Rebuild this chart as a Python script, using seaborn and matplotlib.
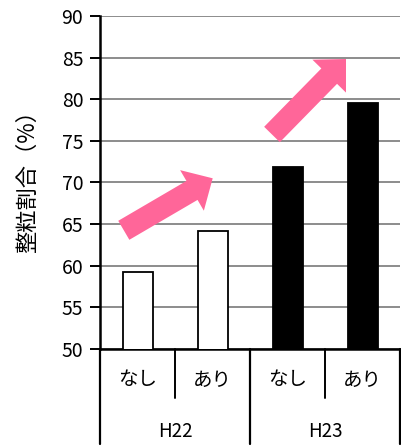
import numpy as np
import pandas as pd
import seaborn as sns
import matplotlib.pyplot as plt
import matplotlib.transforms as mtransforms
from matplotlib.patches import FancyArrow

# chart values
years = ['H22', 'H22', 'H23', 'H23']
treatments = ['なし', 'あり', 'なし', 'あり']
ratios = [59.2, 64.1, 71.8, 79.6]
yticks = [50, 55, 60, 65, 70, 75, 80, 85, 90]

df = pd.DataFrame({
    'Slot': [f'{y}{t}' for y, t in zip(years, treatments)],
    'Year': years,
    'Treatment': treatments,
    'Ratio': ratios,
})

sns.set_style('white')
plt.rcParams['font.family'] = ['Noto Sans CJK JP', 'DejaVu Sans']
plt.rcParams['text.color'] = 'black'
plt.rcParams['axes.labelcolor'] = 'black'
plt.rcParams['ytick.color'] = 'black'

W, H = 401, 446
fig = plt.figure(figsize=(W / 100, H / 100), dpi=100)
ax = fig.add_axes([100 / W, (H - 348.7) / H, 300 / W, 332.7 / H])

sns.barplot(data=df, x='Slot', y='Ratio', hue='Year', dodge=False, width=0.4,
            palette={'H22': 'white', 'H23': 'black'}, edgecolor='black',
            linewidth=1.3, legend=False, ax=ax, zorder=3)

ax.set_ylim(50, 90)
ax.set_xlim(-0.5, 3.5)
ax.set_yticks(yticks)
ax.yaxis.grid(True, color='#8c8c8c', linewidth=1.4, zorder=0)
ax.set_axisbelow(True)
ax.tick_params(axis='y', which='major', labelsize=14, length=7, width=1.4,
               direction='out', left=True, pad=5, color='black', labelcolor='black')
ax.tick_params(axis='x', bottom=False, labelbottom=False)
sns.despine(ax=ax, top=True, right=True)
ax.spines['left'].set_linewidth(1.8)
ax.spines['bottom'].set_linewidth(1.8)
ax.spines['left'].set_color('black')
ax.spines['bottom'].set_color('black')
ax.set_xlabel('')
ax.set_ylabel('整粒割合（%）', fontsize=16, color='black')
ax.yaxis.set_label_coords(-0.205, 0.52)

# two-level category axis
trans = ax.get_xaxis_transform()
for i, t in enumerate(treatments):
    ax.text(i, -0.094, t, transform=trans, ha='center', va='center', fontsize=14, color='black')
for k, yr in enumerate(['H22', 'H23']):
    ax.text(2 * k + 0.5, -0.25, yr, transform=trans, ha='center', va='center', fontsize=13.5, color='black')
for xb in [0.5, 2.5]:
    ax.plot([xb, xb], [0, -0.148], transform=trans, color='black', lw=1.4, clip_on=False)
for xb in [-0.5, 1.5, 3.5]:
    ax.plot([xb, xb], [0, -0.286], transform=trans, color='black', lw=1.6, clip_on=False)

# pink arrows, drawn in pixel space (y down)
pix = mtransforms.Affine2D().scale(1 / W, -1 / H).translate(0, 1) + fig.transFigure
arrows = [((123.8, 230.3), (212.7, 178.3)), ((272.0, 134.5), (346.0, 59.0))]
for (x0, y0), (x1, y1) in arrows:
    fig.patches.append(FancyArrow(x0, y0, x1 - x0, y1 - y0, width=22, head_width=47,
                                  head_length=24, length_includes_head=True,
                                  color='#ff6699', lw=0, transform=pix, zorder=5))

fig.savefig('out.png', dpi=100)
